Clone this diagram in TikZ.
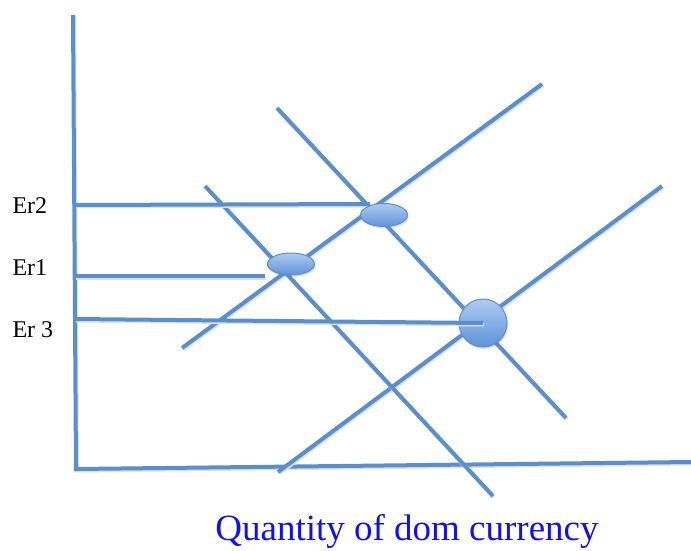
\documentclass[tikz,border=0pt]{standalone}
\usepackage{fontspec}
\setmainfont{Liberation Serif}
\usetikzlibrary{shapes.geometric,shadows}
\definecolor{lineblue}{HTML}{5A8FCB}
\definecolor{balltop}{HTML}{AECBF2}
\definecolor{ballbot}{HTML}{5F93D8}
\definecolor{textblue}{HTML}{1010F0}

\begin{document}
\begin{tikzpicture}[x=1pt, y=-1pt,
  curve/.style={draw=lineblue, line width=4pt, preaction={draw=black!12, line width=4pt, transform canvas={xshift=1pt, yshift=-1.5pt}}},
  eqm/.style={draw=lineblue, line width=1pt, ellipse, top color=balltop, bottom color=ballbot, drop shadow={opacity=0.25, shadow xshift=1pt, shadow yshift=-2pt}, inner sep=0pt},
  rate/.style={anchor=base west, font=\fontsize{24}{26}\selectfont}
]
  \useasboundingbox (0,0) rectangle (691,550);

  % axes
  \coordinate (ytop) at (73,15);
  \coordinate (orig) at (76,469);
  \coordinate (xend) at (691,462);
  \draw[curve] (ytop) -- (orig) -- (xend);

  % supply and demand lines
  \coordinate (s1a) at (182,348);
  \coordinate (s1b) at (542,84);
  \coordinate (s2a) at (278,472);
  \coordinate (s2b) at (662,186);
  \coordinate (d1a) at (205,186);
  \coordinate (d1b) at (493,496);
  \coordinate (d2a) at (277,108);
  \coordinate (d2b) at (566,418);
  \draw[curve] (s1a) -- (s1b);
  \draw[curve] (s2a) -- (s2b);
  \draw[curve] (d1a) -- (d1b);
  \draw[curve] (d2a) -- (d2b);

  % exchange rate levels
  \coordinate (r2) at (75,205);
  \coordinate (r1) at (75,276);
  \coordinate (r3) at (75,319);
  \coordinate (r2e) at (370,204);
  \coordinate (r1e) at (265,276);
  \draw[curve] (r2) -- (r2e);
  \draw[curve] (r1) -- (r1e);

  % equilibria
  \node[eqm, minimum width=47pt, minimum height=23pt] (e2) at (384,215) {};
  \node[eqm, minimum width=47pt, minimum height=22pt] (e1) at (291,264) {};
  \node[eqm, circle, minimum size=48pt] (e3) at (483,323) {};
  \draw[curve] (r3) -- (e3.center);

  \node[rate] (er2) at (9,213) {Er2};
  \node[rate] (er1) at (9,275) {Er1};
  \node[rate] (er3) at (9,337) {Er 3};

  \node[anchor=base, text=textblue, font=\fontsize{37}{40}\selectfont] (qty) at (407,540) {Quantity of dom currency};
\end{tikzpicture}
\end{document}
